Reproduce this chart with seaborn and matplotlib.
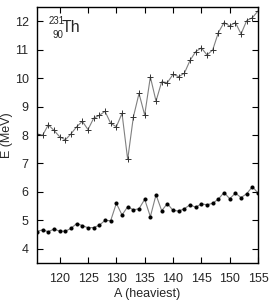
import matplotlib
matplotlib.use("Agg")
import matplotlib.pyplot as plt
import seaborn as sns
import pandas as pd
import numpy as np

A = list(range(116, 156))
upper_E = [8.04, 7.99, 8.36, 8.16, 7.94, 7.83, 8.04, 8.29, 8.48, 8.19,
           8.59, 8.69, 8.83, 8.41, 8.29, 8.76, 7.14, 8.63, 9.46, 8.70,
           10.04, 9.19, 9.87, 9.84, 10.13, 10.05, 10.17, 10.62, 10.93, 11.06,
           10.81, 10.99, 11.60, 11.95, 11.83, 11.95, 11.55, 12.02, 12.12, 12.36]
lower_E = [4.61, 4.67, 4.60, 4.70, 4.62, 4.62, 4.72, 4.89, 4.82, 4.74,
           4.75, 4.83, 5.00, 4.99, 5.60, 5.19, 5.48, 5.37, 5.41, 5.74,
           5.13, 5.90, 5.34, 5.59, 5.35, 5.33, 5.41, 5.55, 5.46, 5.58,
           5.55, 5.60, 5.75, 5.98, 5.76, 5.96, 5.80, 5.94, 6.18, 5.96]
x_ticks = [120, 125, 130, 135, 140, 145, 150, 155]
y_ticks = [4, 5, 6, 7, 8, 9, 10, 11, 12]

sns.set_style("ticks")
plt.rcParams['font.family'] = ['Liberation Sans', 'DejaVu Sans']

fig = plt.figure(figsize=(2.76, 3.0), dpi=100)
ax = fig.add_axes([0.134, 0.123, 0.801, 0.854])

df_u = pd.DataFrame({"A": A, "E": upper_E})
df_l = pd.DataFrame({"A": A, "E": lower_E})

sns.lineplot(data=df_u, x="A", y="E", ax=ax, color="#808080", lw=0.8,
             marker="+", markersize=4, markeredgecolor="#333333",
             markeredgewidth=0.7)
sns.lineplot(data=df_l, x="A", y="E", ax=ax, color="#808080", lw=0.8,
             marker="o", markersize=2.2, markerfacecolor="black",
             markeredgecolor="black")

ax.set_xlim(116, 155)
ax.set_ylim(3.5, 12.5)
ax.set_xticks(x_ticks)
ax.set_yticks(y_ticks)
ax.tick_params(direction="in", top=True, right=True, length=4, width=0.8,
               labelsize=9, color="black")
ax.tick_params(axis="x", pad=7)
ax.tick_params(axis="y", pad=6)
for s in ax.spines.values():
    s.set_linewidth(1.0)
    s.set_color("black")
    s.set_visible(True)
ax.set_xlabel("A (heaviest)", fontsize=9, labelpad=2.5)
ax.set_ylabel("E (MeV)", fontsize=9, labelpad=1)

ax.text(0.051, 0.934, "231", transform=ax.transAxes, fontsize=7, va="baseline", ha="left")
ax.text(0.068, 0.879, "90", transform=ax.transAxes, fontsize=7, va="baseline", ha="left")
ax.text(0.113, 0.9035, "Th", transform=ax.transAxes, fontsize=11.5, va="baseline", ha="left")

fig.savefig("out.png", dpi=100)
